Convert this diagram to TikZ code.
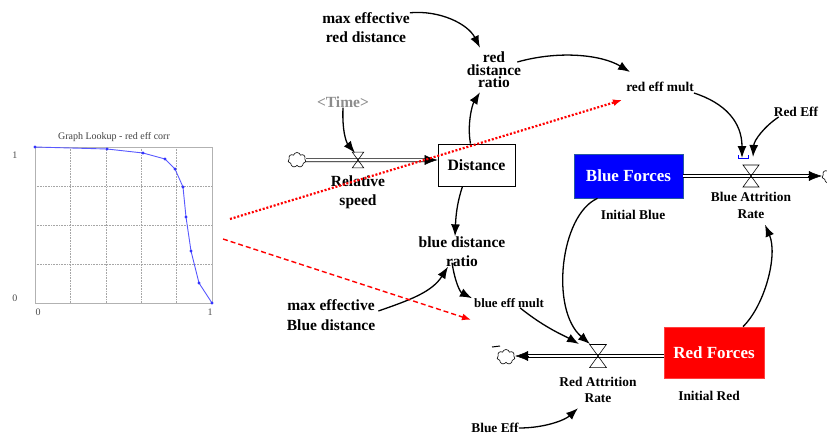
\documentclass[tikz,border=0pt]{standalone}
\usepackage{fontspec}
\setmainfont{Liberation Serif}
\usetikzlibrary{arrows.meta,shapes.symbols}

\tikzset{
    lbl/.style={font=\bfseries\fontsize{15.5}{19}\selectfont, align=center, inner sep=0pt},
    lblsmall/.style={font=\bfseries\fontsize{13.4}{16.5}\selectfont, align=center, inner sep=0pt},
    stock/.style={draw, line width=0.7pt, inner sep=0pt, font=\bfseries\fontsize{17}{20}\selectfont},
    link/.style={line width=1.3pt, -{Latex[length=12pt,width=9pt]}},
    pipe/.style={double=white, double distance=2.6pt, line width=0.7pt},
    pipehead/.style={line width=0.5pt, -{Latex[length=13pt,width=10pt]}},
    sink/.style={cloud, cloud puffs=7, draw, line width=0.6pt, minimum width=18pt, minimum height=15pt, inner sep=0pt},
    lookup/.style={red, line width=1.4pt, -{Latex[length=9pt,width=7pt]}},
    valve/.pic={
        \draw[line width=0.6pt] (-8,-11) -- (8,-11) -- (-8,11) -- (8,11) -- cycle;
    },
}

\begin{document}
\begin{tikzpicture}[x=1pt, y=-1pt]
    \useasboundingbox (0,0) rectangle (827,437);

    \node[font=\fontsize{10}{12}\selectfont, text=black!75] (gtitle) at (114,137) {Graph Lookup - red eff corr};
    \foreach \gx in {70.4,105.8,141.2,176.6}
        \draw[gray!70, densely dotted, line width=0.6pt] (\gx,147) -- (\gx,303);
    \foreach \gy in {186,225,264}
        \draw[gray!70, densely dotted, line width=0.6pt] (35,\gy) -- (212,\gy);
    \draw[gray!60, line width=0.8pt] (35,147) rectangle (212,303);
    \draw[blue!65, line width=0.9pt, mark=*, mark size=1pt, mark options={blue!80}] plot coordinates {(35,147) (107,149) (143,153) (165,159) (175,169) (183,187) (186,217) (191,251) (199,283) (212,303)};
    \node[font=\fontsize{10}{12}\selectfont, text=black!70] (gy1) at (15,155) {1};
    \node[font=\fontsize{10}{12}\selectfont, text=black!70] (gy0) at (15,298) {0};
    \node[font=\fontsize{10}{12}\selectfont, text=black!70] (gx0) at (38,312) {0};
    \node[font=\fontsize{10}{12}\selectfont, text=black!70] (gx1) at (210,312) {1};

    \node[stock, minimum width=77pt, minimum height=42pt, font=\bfseries\fontsize{15.8}{19}\selectfont] (dist) at (476.5,165) {Distance};
    \node[stock, draw={rgb,255:red,40;green,90;blue,160}, fill={rgb,255:red,0;green,0;blue,255}, text=white, minimum width=109pt, minimum height=44pt] (blue) at (628.5,176) {Blue Forces};
    \node[stock, draw=red!75, fill={rgb,255:red,255;green,0;blue,0}, text=white, minimum width=100pt, minimum height=51pt] (red) at (714,352.5) {Red Forces};

    \node[sink] (cl1) at (297,160) {};
    \node[sink] (cl2) at (831,176) {};
    \node[sink] (cl3) at (506,357) {};

    \coordinate (v1) at (358,160);
    \coordinate (v2) at (751,176);
    \coordinate (v3) at (598,356);

    \coordinate (p1) at (dist.west |- v1);
    \draw[pipe] (cl1.east) -- ([xshift=-8pt]p1);
    \draw[pipehead] ([xshift=-14pt]p1) -- (p1);
    \coordinate (p2) at (blue.east |- v2);
    \coordinate (p2e) at (cl2.west |- v2);
    \draw[pipe] (p2) -- ([xshift=-8pt]p2e);
    \draw[pipehead] ([xshift=-14pt]p2e) -- (p2e);
    \coordinate (p3) at (red.west |- v3);
    \coordinate (p3e) at (cl3.east |- v3);
    \draw[pipe] (p3) -- ([xshift=8pt]p3e);
    \draw[pipehead] ([xshift=14pt]p3e) -- (p3e);

    \pic[scale=0.72] at (v1) {valve};
    \pic at (v2) {valve};
    \pic[scale=1.05] at (v3) {valve};

    \node[lbl, text=black!45] (time) at (343,102) {<Time>};
    \node[lbl] (relspeed) at (358,192) {Relative\\speed};
    \node[lbl] (maxred) at (366,28) {max effective\\red distance};
    \node[lbl, font=\bfseries\fontsize{15.5}{12.6}\selectfont] (rdr) at (494,70) {red\\distance\\ratio};
    \node[lblsmall] (rem) at (660,87) {red eff mult};
    \node[lblsmall] (redeff) at (796,112) {Red Eff};
    \node[lblsmall] (iblue) at (633,215) {Initial Blue};
    \node[lblsmall] (bar) at (751,205.5) {Blue Attrition\\Rate};
    \node[lbl] (bdr) at (462,251.5) {blue distance\\ratio};
    \node[lbl, font=\bfseries\fontsize{15.5}{20}\selectfont] (maxblue) at (331,315) {max effective\\Blue distance};
    \node[lblsmall, font=\bfseries\fontsize{12.8}{15}\selectfont] (bem) at (509,303) {blue eff mult};
    \node[lblsmall] (rar) at (598,390) {Red Attrition\\Rate};
    \node[lblsmall] (ired) at (709,396) {Initial Red};
    \node[lblsmall] (beff) at (495,428) {Blue Eff};

    \draw[link] (time.south) .. controls (342,130) and (346,142) .. ([xshift=-3pt,yshift=7pt]v1);
    \draw[link] (maxred.north east) .. controls (440,10) and (468,24) .. ([xshift=-14pt,yshift=4pt]rdr.north);
    \draw[link] ([xshift=-6pt]dist.north) .. controls (467,125) and (472,105) .. ([xshift=-14pt,yshift=-4pt]rdr.south);
    \draw[link] ([xshift=-4pt,yshift=8pt]rdr.east) .. controls (560,50) and (602,55) .. ([xshift=4pt,yshift=15pt]rem.west);
    \draw[link] ([yshift=-6pt]rem.east) .. controls (725,103) and (742,122) .. ([xshift=-9pt,yshift=18pt]v2);
    \draw[link] ([xshift=5pt]redeff.south west) .. controls (765,126) and (754,140) .. ([xshift=2pt,yshift=19pt]v2);
    \draw[link] ([xshift=-14pt]dist.south) .. controls (458,200) and (456,212) .. ([xshift=-7pt]bdr.north);
    \draw[link] ([xshift=3pt,yshift=4pt]maxblue.east) .. controls (410,300) and (432,292) .. ([xshift=-14pt]bdr.south);
    \draw[link] ([xshift=-10pt,yshift=4pt]bdr.south) .. controls (455,282) and (460,292) .. ([xshift=-2pt]bem.north west);
    \draw[link] ([xshift=11pt]bem.south) .. controls (545,328) and (565,336) .. ([xshift=-19pt,yshift=12pt]v3);
    \draw[link] ([xshift=-31pt]blue.south) .. controls (560,215) and (550,310) .. ([xshift=-8pt,yshift=12pt]v3);
    \draw[link] ([xshift=29pt]red.north) .. controls (765,305) and (778,255) .. ([xshift=14pt,yshift=-6pt]bar.south);
    \draw[link] (beff.east) .. controls (545,428) and (565,420) .. ([xshift=-20pt,yshift=-5pt]rar.south);

    \coordinate (g1) at (230,219);
    \coordinate (g2) at (223,239);
    \draw[lookup, line width=2.2pt, dash pattern=on 2pt off 1.8pt] (g1) -- ([xshift=-4pt,yshift=-13pt]rem.west);
    \draw[lookup, line width=1.4pt, dash pattern=on 5pt off 3pt] (g2) -- ([xshift=-3pt,yshift=-12pt]bem.south west);

    \draw[blue, line width=0.7pt] (738,155) -- (738,158) -- (748,158) -- (748,155);
    \draw[line width=1pt] (492,347) -- (500,346);
\end{tikzpicture}
\end{document}
